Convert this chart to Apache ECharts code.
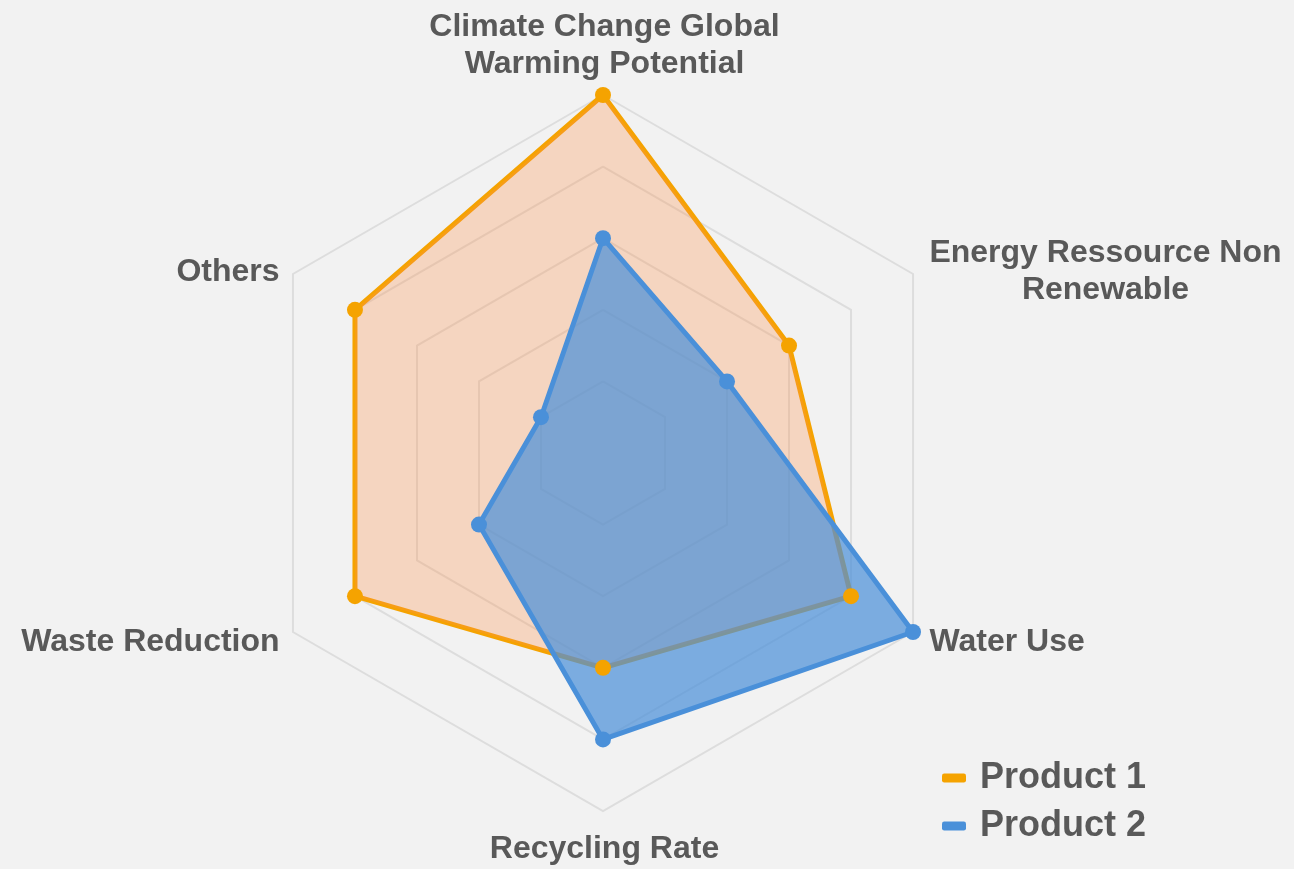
<!DOCTYPE html>
<html>
<head>
<meta charset="utf-8">
<title>Product comparison radar</title>
<script src="https://cdn.jsdelivr.net/npm/echarts@6/dist/echarts.min.js"></script>
<style>
  html, body { margin: 0; padding: 0; background: #f2f2f2; }
  #chart { width: 1294px; height: 869px; }
</style>
</head>
<body>
<div id="chart"></div>
<script>
// Indicators listed in the order ECharts lays them out (counter-clockwise from the top)
const indicatorNames = [
  'Climate Change Global\nWarming Potential',
  'Others',
  'Waste Reduction',
  'Recycling Rate',
  'Water Use',
  'Energy Ressource Non\nRenewable'
];
const indicatorMax = 5;
const seriesNames = ['Product 1', 'Product 2'];
const product1 = [5, 4, 4, 3, 4, 3];
const product2 = [3, 1, 2, 4, 5, 2];

const textColor = '#595959';
const orange = '#f5a300';
const blue = '#4a90d9';
const fontFamily = 'Liberation Sans, Arial, sans-serif';

const chart = echarts.init(document.getElementById('chart'), null, { renderer: 'canvas' });

chart.setOption({
  backgroundColor: '#f2f2f2',
  animation: false,
  legend: {
    orient: 'vertical',
    left: 942,
    top: 760,
    padding: 0,
    itemGap: 12,
    itemWidth: 24,
    itemHeight: 9,
    icon: 'roundRect',
    data: seriesNames,
    textStyle: {
      color: textColor,
      fontSize: 36,
      fontWeight: 'bold',
      fontFamily: fontFamily,
      padding: [0, 0, 0, 9]
    }
  },
  radar: {
    center: [603, 453],
    radius: 358,
    startAngle: 90,
    splitNumber: 5,
    shape: 'polygon',
    nameGap: 12,
    indicator: indicatorNames.map(n => ({ name: n, max: indicatorMax, min: 0 })),
    axisName: {
      color: textColor,
      fontSize: 32,
      fontWeight: 'bold',
      fontFamily: fontFamily,
      lineHeight: 37,
      padding: [8, 3, 0, 6],
      // each line is centred within its label block
      formatter: name => name.split('\n').map(line => '{c|' + line + '}').join('\n'),
      rich: {
        c: {
          align: 'center',
          color: textColor,
          fontSize: 32,
          fontWeight: 'bold',
          fontFamily: fontFamily,
          lineHeight: 37
        }
      }
    },
    axisLine: { show: false },
    splitArea: { show: false },
    splitLine: { lineStyle: { color: '#dddddd', width: 2 } }
  },
  series: [
    {
      name: seriesNames[0],
      type: 'radar',
      symbol: 'circle',
      symbolSize: 16,
      itemStyle: { color: orange },
      lineStyle: { color: orange, width: 5 },
      areaStyle: { color: '#fb914b', opacity: 0.3 },
      data: [{ value: product1, name: seriesNames[0] }]
    },
    {
      name: seriesNames[1],
      type: 'radar',
      symbol: 'circle',
      symbolSize: 16,
      itemStyle: { color: blue },
      lineStyle: { color: blue, width: 5 },
      areaStyle: { color: blue, opacity: 0.71 },
      data: [{ value: product2, name: seriesNames[1] }]
    }
  ]
});
</script>
</body>
</html>
